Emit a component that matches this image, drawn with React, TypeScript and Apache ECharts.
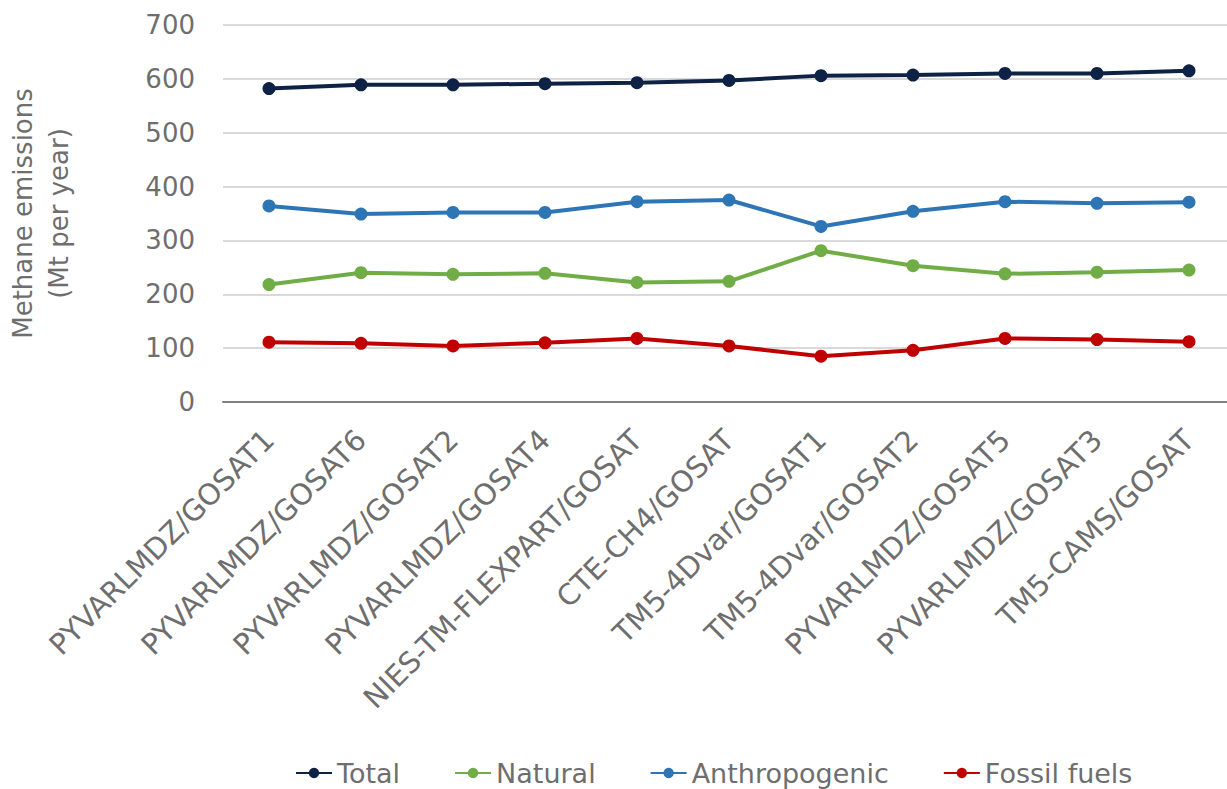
import React, { useEffect, useRef } from "react";
import * as echarts from "echarts";

// Inversion models (system / satellite product)
const models = [
  "PYVARLMDZ/GOSAT1",
  "PYVARLMDZ/GOSAT6",
  "PYVARLMDZ/GOSAT2",
  "PYVARLMDZ/GOSAT4",
  "NIES-TM-FLEXPART/GOSAT",
  "CTE-CH4/GOSAT",
  "TM5-4Dvar/GOSAT1",
  "TM5-4Dvar/GOSAT2",
  "PYVARLMDZ/GOSAT5",
  "PYVARLMDZ/GOSAT3",
  "TM5-CAMS/GOSAT",
];

// Methane emissions, Mt per year
const total = [582, 589, 589, 591, 593, 597, 606, 607, 610, 610, 615];
const natural = [218, 240, 237, 239, 222, 224, 281, 253, 238, 241, 245];
const anthropogenic = [364, 349, 352, 352, 372, 375, 326, 354, 372, 369, 371];
const fossilFuels = [111, 109, 104, 110, 118, 104, 85, 96, 118, 116, 112];

const yTicks = { min: 0, max: 700, interval: 100 };

const FONT = "'DejaVu Sans', sans-serif";
const TEXT_GRAY = "#6e6e6e";

const seriesDefs = [
  { name: "Total", data: total, color: "#0e2246" },
  { name: "Natural", data: natural, color: "#70ad47" },
  { name: "Anthropogenic", data: anthropogenic, color: "#2e75b6" },
  { name: "Fossil fuels", data: fossilFuels, color: "#c00000" },
];

export default function App() {
  const ref = useRef<HTMLDivElement>(null);

  useEffect(() => {
    if (!ref.current) return;
    const chart = echarts.init(ref.current, undefined, { renderer: "svg" });
    chart.setOption({
      animation: false,
      textStyle: { fontFamily: FONT },
      grid: {
        left: 223,
        top: 25,
        width: 1012,
        height: 377,
        containLabel: false,
        outerBoundsMode: "none",
      },
      legend: {
        left: 295,
        top: 758,
        padding: 0,
        itemWidth: 36,
        itemHeight: 13,
        itemGap: 54,
        textStyle: { fontSize: 27, lineHeight: 30, color: TEXT_GRAY, fontFamily: FONT },
        data: seriesDefs.map((s) => s.name),
      },
      xAxis: {
        type: "category",
        data: models,
        boundaryGap: true,
        axisTick: { show: false },
        axisLine: { lineStyle: { color: "#808080", width: 2 } },
        axisLabel: {
          rotate: 45,
          margin: 33,
          interval: 0,
          verticalAlign: "middle",
          fontSize: 29,
          color: TEXT_GRAY,
          fontFamily: FONT,
        },
      },
      yAxis: {
        type: "value",
        min: yTicks.min,
        max: yTicks.max,
        interval: yTicks.interval,
        name: "Methane emissions\n(Mt per year)",
        nameLocation: "middle",
        nameGap: 146,
        nameTextStyle: {
          fontSize: 26,
          color: TEXT_GRAY,
          lineHeight: 36,
          fontFamily: FONT,
        },
        axisLine: { show: false },
        axisTick: { show: false },
        axisLabel: { fontSize: 26, color: TEXT_GRAY, margin: 28, fontFamily: FONT },
        splitLine: { lineStyle: { color: "#d9d9d9", width: 2 } },
      },
      series: seriesDefs.map((s) => ({
        name: s.name,
        type: "line",
        data: s.data,
        symbol: "circle",
        symbolSize: 13,
        lineStyle: { color: s.color, width: 4 },
        itemStyle: { color: s.color },
      })),
    });
    return () => chart.dispose();
  }, []);

  return (
    <div
      ref={ref}
      style={{ position: "fixed", left: 0, top: 0, width: 1227, height: 789, background: "#fff" }}
    />
  );
}
